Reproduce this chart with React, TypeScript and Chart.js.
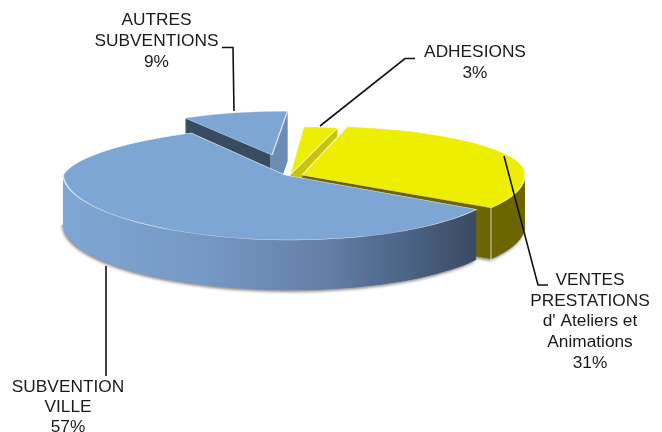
import React, { useEffect, useRef } from "react";
import { Chart, registerables } from "chart.js";

Chart.register(...registerables);

const categories = ["SUBVENTION VILLE", "AUTRES SUBVENTIONS", "ADHESIONS", "VENTES PRESTATIONS"];
const shares = [57, 9, 3, 31];
const sliceColors = ["#7ea6d4", "#7ea6d4", "#eeee00", "#eeee00"];
const labelLines = [
  ["SUBVENTION", "VILLE", "57%"],
  ["AUTRES", "SUBVENTIONS", "9%"],
  ["ADHESIONS", "3%"],
  ["VENTES", "PRESTATIONS", "d' Ateliers et", "Animations", "31%"],
];

// style only: per-slice ellipse placement (apex x/y, x radius, back and front y radius, skews)
const faces = [
  { x: 285, y: 175, rx: 222, back: 50, front: 65, depth: 50, skewBack: -0.62, skewFront: 0.1 },
  { x: 272, y: 155, rx: 187, back: 44, front: 44, depth: 50, skewBack: -0.384, skewFront: 0 },
  { x: 290, y: 175, rx: 183, back: 48, front: 48, depth: 50, skewBack: -0.31, skewFront: 0 },
  { x: 302, y: 175, rx: 223, back: 49, front: 62, depth: 51, skewBack: -0.1, skewFront: 0 },
];
const sideStops: [number, string][][] = [
  [[63, "#7ea6d4"], [200, "#7698c4"], [320, "#627fa6"], [400, "#4c6486"], [477, "#39485f"]],
  [[269.4, "#3a4a60"], [269.9, "#6c8cb5"]],
  [[200, "#c8c400"], [400, "#c8c400"]],
  [[300, "#6b6600"], [530, "#6b6600"]],
];
const drawOrder = [1, 2, 3, 0];
const labelPos = [
  { x: 68, y: 387.5, dy: 20 },
  { x: 156.5, y: 20.5, dy: 21 },
  { x: 475, y: 52, dy: 21.5 },
  { x: 590, y: 280, dy: 20.8 },
];
const leaders = [
  [[106, 266], [106, 376]],
  [[222, 47.5], [233, 47.5], [234, 111]],
  [[320, 126], [405, 58.5], [415, 58.5]],
  [[504, 156], [538, 285], [548, 285]],
];
const edgeHighlights = [[[491, 208], [491, 261]]];

function drawSlice(ctx: CanvasRenderingContext2D, el: any, i: number, W: number, H: number) {
  const f = faces[i];
  const R = el.outerRadius;
  const opts = el.options;
  const toUserX = (X: number) => el.x + ((X - f.x) * R) / f.rx;
  const stops = sideStops[i];
  const grad = ctx.createLinearGradient(toUserX(stops[0][0]), 0, toUserX(stops[stops.length - 1][0]), 0);
  const x0 = stops[0][0];
  const span = stops[stops.length - 1][0] - x0;
  stops.forEach(([x, c]) => grad.addColorStop((x - x0) / span, c));
  const halves = [
    { top: -100, h: f.y + 100, ry: f.back, skew: f.skewBack },
    { top: f.y, h: H + 100, ry: f.front, skew: f.skewFront },
  ];
  const paint = (dy: number, options: any) => {
    el.options = options;
    halves.forEach((half) => {
      ctx.save();
      ctx.beginPath();
      ctx.rect(0, half.top + dy, W, half.h);
      ctx.clip();
      ctx.translate(f.x, f.y + dy);
      ctx.transform(1, 0, half.skew, 1, 0, 0);
      ctx.scale(f.rx / R, half.ry / R);
      ctx.translate(-el.x, -el.y);
      el.draw(ctx);
      ctx.restore();
    });
  };
  const side = Object.assign({}, opts, { backgroundColor: grad, borderWidth: 0 });
  ctx.save();
  ctx.shadowColor = "rgba(0,0,0,0.45)";
  ctx.shadowBlur = 3;
  ctx.shadowOffsetX = -1;
  ctx.shadowOffsetY = 2;
  if (i === 0 || i === 3) paint(f.depth, side);
  ctx.restore();
  for (let dy = f.depth; dy > 0; dy -= 0.5) paint(dy, side);
  paint(0, opts);
  el.options = opts;
}

const polyline = (ctx: CanvasRenderingContext2D, pts: number[][]) => {
  ctx.beginPath();
  pts.forEach(([x, y], k) => (k ? ctx.lineTo(x, y) : ctx.moveTo(x, y)));
  ctx.stroke();
};

const pie3d = {
  id: "pie3d",
  beforeDatasetsDraw(chart: any) {
    const ctx = chart.ctx as CanvasRenderingContext2D;
    const arcs = chart.getDatasetMeta(0).data;
    drawOrder.forEach((i) => drawSlice(ctx, arcs[i], i, chart.width, chart.height));
    return false;
  },
  afterDraw(chart: any) {
    const ctx = chart.ctx as CanvasRenderingContext2D;
    ctx.save();
    ctx.strokeStyle = "rgba(255,255,255,0.75)";
    ctx.lineWidth = 1;
    edgeHighlights.forEach((pts) => polyline(ctx, pts));
    ctx.strokeStyle = "#111";
    ctx.lineWidth = 1.6;
    leaders.forEach((pts) => polyline(ctx, pts));
    ctx.fillStyle = "#1a1a1a";
    ctx.font = '17.3px "Liberation Sans"';
    ctx.textAlign = "center";
    ctx.textBaseline = "middle";
    labelLines.forEach((lines, i) => {
      const p = labelPos[i];
      lines.forEach((t, k) => ctx.fillText(t, p.x, p.y + k * p.dy));
    });
    ctx.restore();
  },
};

export default function App() {
  const ref = useRef<HTMLCanvasElement>(null);
  useEffect(() => {
    const chart = new Chart(ref.current!, {
      type: "pie",
      data: {
        labels: categories,
        datasets: [
          {
            data: shares,
            backgroundColor: sliceColors,
            borderColor: "rgba(255,255,255,0.75)",
            borderWidth: 1.5,
          },
        ],
      },
      options: {
        responsive: false,
        animation: false,
        rotation: 122,
        layout: { padding: 10 },
        plugins: { legend: { display: false }, tooltip: { enabled: false } },
      },
      plugins: [pie3d],
    } as any);
    return () => chart.destroy();
  }, []);
  return (
    <canvas
      ref={ref}
      width={662}
      height={432}
      style={{ position: "absolute", left: 0, top: 0, width: 662, height: 432 }}
    />
  );
}
